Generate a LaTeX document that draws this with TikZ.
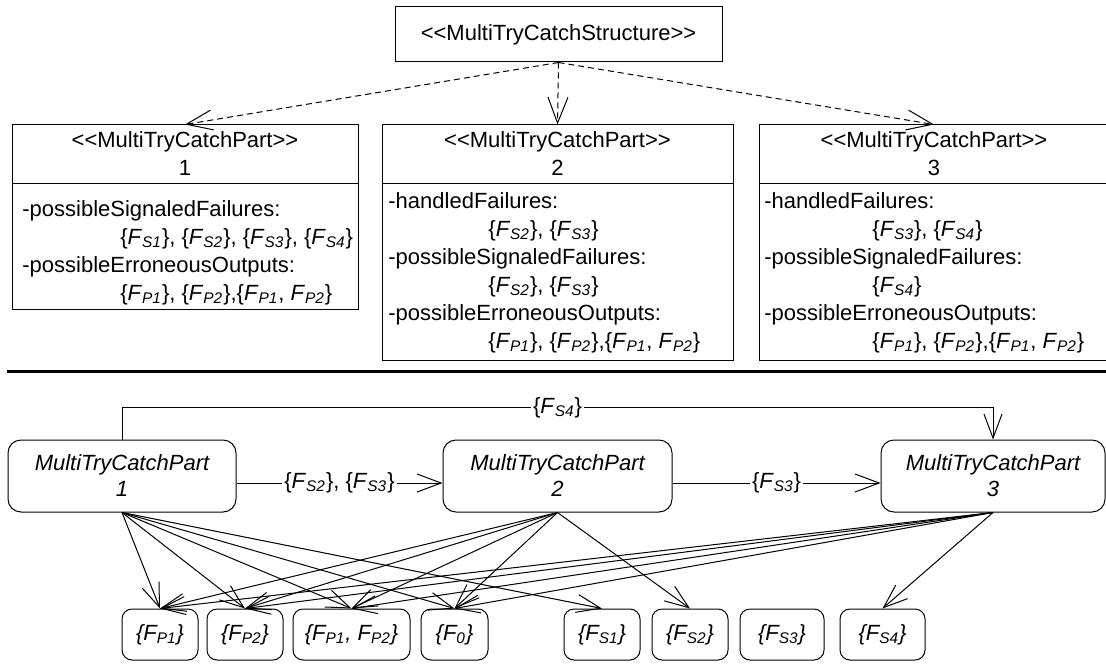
\documentclass[tikz,border=0pt]{standalone}
\usepackage{fontspec}
\setmainfont{Liberation Sans}[Ligatures=TeXOff]
\usetikzlibrary{arrows.meta}
\newcommand{\Fsub}[1]{\textit{F}\textsubscript{\textit{#1}}}
\newcommand{\Fset}[1]{\{\Fsub{#1}\}}

\begin{document}
\begin{tikzpicture}[x=0.5pt,y=-0.5pt,
  every node/.style={font=\fontsize{11}{14}\selectfont},
  classbox/.style={draw,line width=0.5pt,inner sep=0pt},
  headtxt/.style={inner sep=0pt,align=center},
  attrtxt/.style={anchor=north west,inner sep=0pt,align=left},
  statebox/.style={draw,line width=0.5pt,rounded corners=6.5pt,inner sep=0pt,
    align=center,font=\fontsize{11}{13}\selectfont\itshape},
  setbox/.style={draw,line width=0.5pt,rounded corners=5pt,inner sep=0pt,
    minimum height=25.5pt,font=\fontsize{11}{13}\selectfont\itshape},
  realize/.style={line width=0.5pt,dash pattern=on 3pt off 2pt,
    -{Straight Barb[length=13pt,width=10pt]}},
  flow/.style={line width=0.5pt,-{Straight Barb[length=12pt,width=9pt]}},
  lbl/.style={fill=white,inner sep=1pt}]
  \useasboundingbox (0,0) rectangle (1106,663);

  % structure and its parts
  \node[classbox,minimum width=163.5pt,minimum height=27.5pt] (struct) at (558.5,34.5)
    {<<MultiTryCatchStructure>>};

  \node[classbox,minimum width=173pt,minimum height=92pt] (part1) at (185,217) {};
  \node[classbox,minimum width=175.5pt,minimum height=117.5pt] (part2) at (557.5,242.5) {};
  \node[classbox,minimum width=175pt,minimum height=117.5pt] (part3) at (934,242.5) {};
  \foreach \p in {part1,part2,part3}
    \draw[line width=0.5pt] ([yshift=-29.5pt]\p.north west) -- ([yshift=-29.5pt]\p.north east);

  \node[headtxt] (head1) at (185,154) {<<MultiTryCatchPart>>\\1};
  \node[headtxt] (head2) at (557.5,154) {<<MultiTryCatchPart>>\\2};
  \node[headtxt] (head3) at (934,154) {<<MultiTryCatchPart>>\\3};

  \node[attrtxt] (attr1) at (22,200) {-possibleSignaledFailures:\\
    \hspace*{49pt}\Fset{S1}, \Fset{S2}, \Fset{S3}, \Fset{S4}\\
    -possibleErroneousOutputs:\\
    \hspace*{49pt}\Fset{P1}, \Fset{P2},\{\Fsub{P1}, \Fsub{P2}\}};
  \node[attrtxt] (attr2) at (388,192) {-handledFailures:\\
    \hspace*{50pt}\Fset{S2}, \Fset{S3}\\
    -possibleSignaledFailures:\\
    \hspace*{50pt}\Fset{S2}, \Fset{S3}\\
    -possibleErroneousOutputs:\\
    \hspace*{50pt}\Fset{P1}, \Fset{P2},\{\Fsub{P1}, \Fsub{P2}\}};
  \node[attrtxt] (attr3) at (764,192) {-handledFailures:\\
    \hspace*{54pt}\Fset{S3}, \Fset{S4}\\
    -possibleSignaledFailures:\\
    \hspace*{54pt}\Fset{S4}\\
    -possibleErroneousOutputs:\\
    \hspace*{54pt}\Fset{P1}, \Fset{P2},\{\Fsub{P1}, \Fsub{P2}\}};

  \draw[realize] (struct.south) -- (part1.north);
  \draw[realize] (struct.south) -- (part2.north);
  \draw[realize] (struct.south) -- (part3.north);

  \draw[line width=1.5pt] (7,371) -- (1106,371);

  % failure flow between the parts
  \node[statebox,minimum width=114pt,minimum height=36pt] (p1) at (122,476) {MultiTryCatchPart\\1};
  \node[statebox,minimum width=114.5pt,minimum height=36pt] (p2) at (557.5,476) {MultiTryCatchPart\\2};
  \node[statebox,minimum width=112pt,minimum height=36pt] (p3) at (993,476) {MultiTryCatchPart\\3};

  \node[setbox,minimum width=38pt] (fp1) at (160,634.5) {\Fset{P1}};
  \node[setbox,minimum width=38pt] (fp2) at (245,634.5) {\Fset{P2}};
  \node[setbox,minimum width=58.5pt] (fp12) at (351.5,634.5) {\{\Fsub{P1}, \Fsub{P2}\}};
  \node[setbox,minimum width=33.5pt] (f0) at (454.5,634.5) {\{\Fsub{0}\}};
  \node[setbox,minimum width=38pt] (fs1) at (602,634.5) {\Fset{S1}};
  \node[setbox,minimum width=38pt] (fs2) at (690,634.5) {\Fset{S2}};
  \node[setbox,minimum width=42pt] (fs3) at (782,634.5) {\Fset{S3}};
  \node[setbox,minimum width=42.5pt] (fs4) at (882.5,634.5) {\Fset{S4}};

  \draw[flow] ([yshift=-3.5pt]p1.east) -- node[lbl] (l12) {\Fset{S2}, \Fset{S3}} ([yshift=-3.5pt]p2.west);
  \draw[flow] ([yshift=-3.5pt]p2.east) -- node[lbl] (l23) {\Fset{S3}} ([yshift=-3.5pt]p3.west);
  \draw[flow] (p1.north) -- ++(0,-32) -| node[lbl,pos=0.25] (l13) {\Fset{S4}} (p3.north);

  \foreach \t in {fp1,fp2,fp12,f0,fs1}
    \draw[flow] (p1.south) -- (\t.north);
  \foreach \t in {fp1,fp2,fp12,f0,fs2}
    \draw[flow] (p2.south) -- (\t.north);
  \foreach \t in {fp1,fp2,fp12,f0,fs4}
    \draw[flow] (p3.south) -- (\t.north);
\end{tikzpicture}
\end{document}
